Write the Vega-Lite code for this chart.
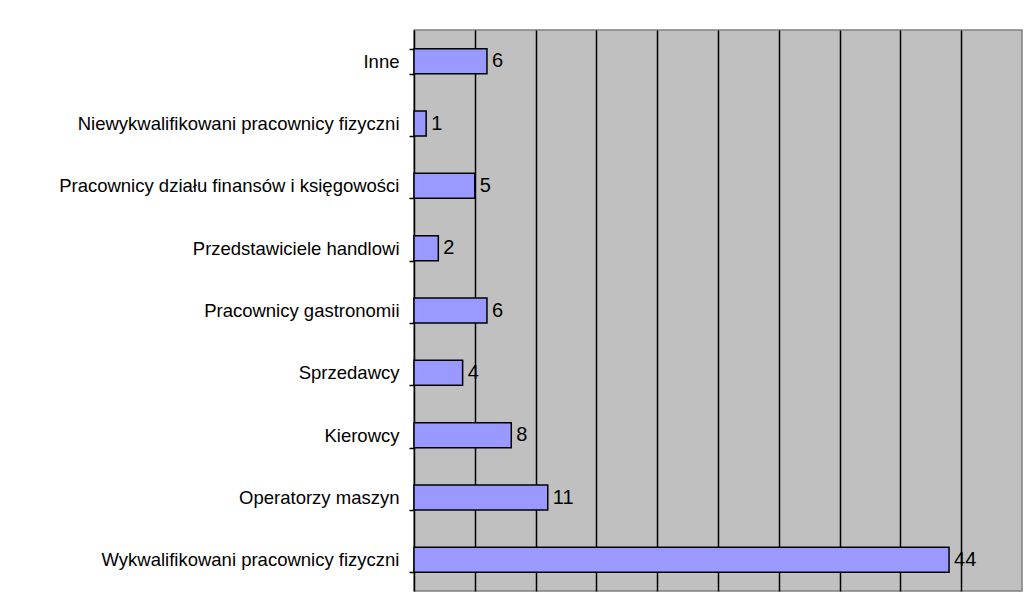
{
  "$schema": "https://vega.github.io/schema/vega-lite/v6.json",
  "width": 608,
  "height": 561,
  "autosize": "none",
  "padding": {"left": 414, "top": 30, "right": 3, "bottom": 13},
  "background": "white",
  "config": {
    "font": "Liberation Sans",
    "view": {"fill": "#C0C0C0", "stroke": "#808080", "strokeWidth": 1.5}
  },
  "data": {
    "values": [
      {"kategoria": "Inne", "liczba": 6},
      {"kategoria": "Niewykwalifikowani pracownicy fizyczni", "liczba": 1},
      {"kategoria": "Pracownicy działu finansów i księgowości", "liczba": 5},
      {"kategoria": "Przedstawiciele handlowi", "liczba": 2},
      {"kategoria": "Pracownicy gastronomii", "liczba": 6},
      {"kategoria": "Sprzedawcy", "liczba": 4},
      {"kategoria": "Kierowcy", "liczba": 8},
      {"kategoria": "Operatorzy maszyn", "liczba": 11},
      {"kategoria": "Wykwalifikowani pracownicy fizyczni", "liczba": 44}
    ]
  },
  "encoding": {
    "y": {
      "field": "kategoria",
      "type": "nominal",
      "sort": null,
      "scale": {"paddingInner": 0.6, "paddingOuter": 0.3},
      "axis": {
        "title": null,
        "grid": false,
        "domainColor": "black",
        "domainWidth": 1.5,
        "tickColor": "black",
        "tickWidth": 1.5,
        "tickSize": 5,
        "tickBand": "extent",
        "labelFontSize": 18.5,
        "labelColor": "black",
        "labelPadding": 10,
        "labelLimit": 420
      }
    },
    "x": {
      "field": "liczba",
      "type": "quantitative",
      "scale": {"domain": [0, 50], "nice": false},
      "axis": {
        "title": null,
        "labels": false,
        "ticks": false,
        "domain": false,
        "grid": true,
        "gridColor": "black",
        "gridOpacity": 1,
        "gridWidth": 1.5,
        "values": [5, 10, 15, 20, 25, 30, 35, 40, 45]
      }
    }
  },
  "layer": [
    {
      "mark": {"type": "bar", "color": "#9999FF", "stroke": "black", "strokeWidth": 1.5}
    },
    {
      "mark": {"type": "text", "align": "left", "baseline": "middle", "dx": 5, "fontSize": 20, "color": "black"},
      "encoding": {"text": {"field": "liczba", "type": "quantitative"}}
    }
  ]
}
